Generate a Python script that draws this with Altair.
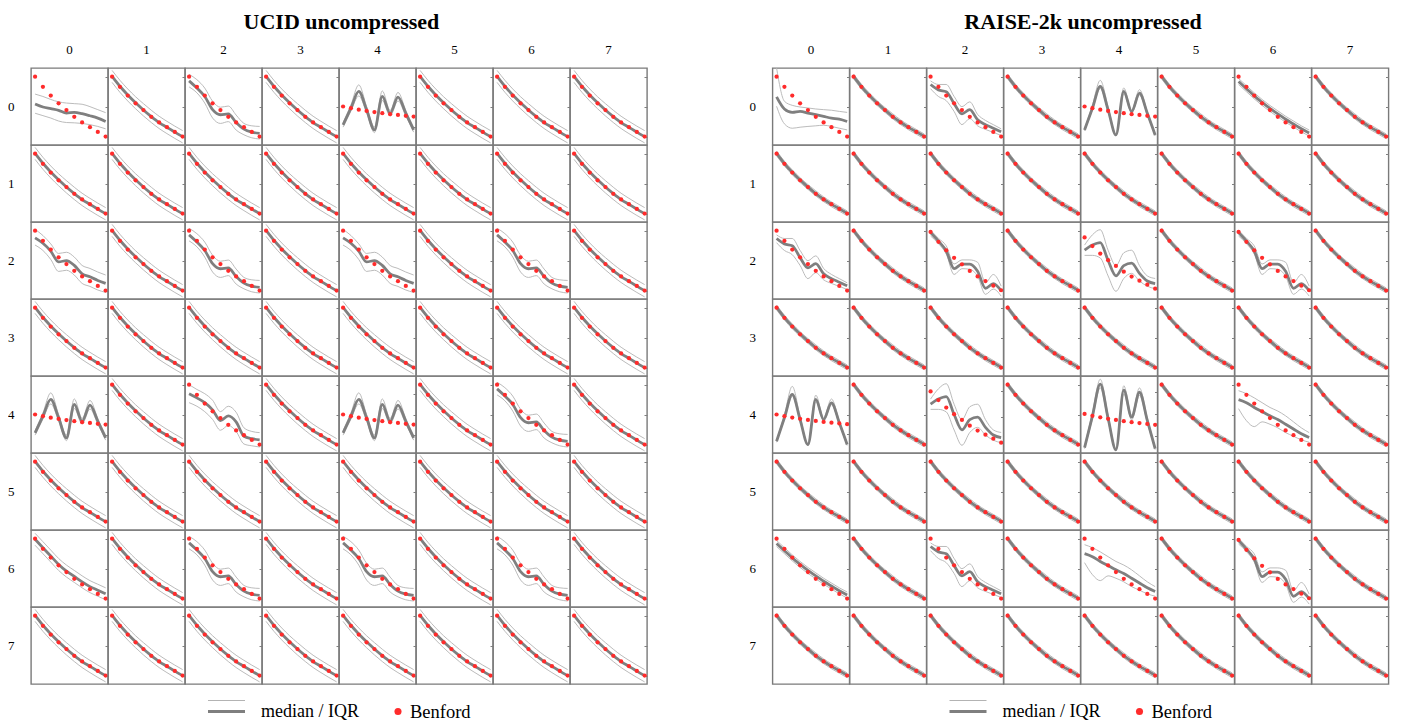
import altair as alt
import pandas as pd

SERIF = "Liberation Serif"
MED_C = "#7f7f7f"
IQR_C = "#b3b3b3"
BEN_C = "#ff2b2b"
BORDER_C = "#7a7a7a"

DIGITS = [0, 1, 2, 3, 4, 5, 6, 7, 8, 9]
ROW_LABELS = [0, 1, 2, 3, 4, 5, 6, 7]
COL_LABELS = [0, 1, 2, 3, 4, 5, 6, 7]
# Benford reference (normalised log-probability units)
BENFORD = [0.000, -0.169, -0.315, -0.444, -0.556, -0.669, -0.764, -0.843, -0.921, -1.000]

LIM_N = [0.145, -1.14]
LIM_S = [0.17, -1.15]
LIM_W = [0.30, -1.20]

# ---------------- UCID profiles ----------------
uN_med = [0.005, -0.160, -0.305, -0.435, -0.555, -0.665, -0.765, -0.845, -0.925, -1.000]
uN_hi = [0.105, -0.060, -0.205, -0.335, -0.450, -0.560, -0.660, -0.745, -0.825, -0.900]
uN_lo = [-0.095, -0.260, -0.405, -0.535, -0.655, -0.765, -0.865, -0.950, -1.030, -1.105]

u00_med = [-0.455, -0.506, -0.534, -0.562, -0.607, -0.596, -0.618, -0.652, -0.691, -0.747]
u00_hi = [-0.290, -0.330, -0.380, -0.420, -0.440, -0.450, -0.460, -0.500, -0.550, -0.600]
u00_lo = [-0.610, -0.650, -0.690, -0.740, -0.765, -0.770, -0.780, -0.800, -0.830, -0.870]

uA_med = [-0.070, -0.190, -0.330, -0.550, -0.635, -0.620, -0.765, -0.875, -0.925, -0.945]
uA_hi = [0.040, -0.050, -0.190, -0.410, -0.510, -0.490, -0.640, -0.780, -0.820, -0.830]
uA_lo = [-0.170, -0.270, -0.440, -0.690, -0.780, -0.750, -0.890, -0.970, -1.020, -1.040]

uB_med = [-0.120, -0.210, -0.340, -0.520, -0.500, -0.580, -0.720, -0.770, -0.830, -0.880]
uB_hi = [0.020, -0.080, -0.220, -0.380, -0.360, -0.440, -0.580, -0.630, -0.690, -0.740]
uB_lo = [-0.240, -0.330, -0.480, -0.680, -0.660, -0.740, -0.880, -0.930, -0.990, -1.030]

uC_med = [-0.150, -0.220, -0.300, -0.420, -0.600, -0.520, -0.620, -0.860, -0.900, -0.920]
uC_hi = [0.000, -0.080, -0.150, -0.260, -0.450, -0.360, -0.460, -0.720, -0.780, -0.800]
uC_lo = [-0.300, -0.360, -0.450, -0.580, -0.760, -0.680, -0.780, -0.990, -1.020, -1.040]

uD_med = [-0.010, -0.150, -0.290, -0.430, -0.540, -0.630, -0.720, -0.800, -0.860, -0.920]
uD_hi = [0.090, -0.050, -0.190, -0.330, -0.440, -0.530, -0.620, -0.700, -0.760, -0.820]
uD_lo = [-0.110, -0.250, -0.390, -0.530, -0.640, -0.730, -0.820, -0.900, -0.960, -1.020]

uZ_med = [-1.83, -0.17, 1.50, -0.33, -2.33, 1.00, -0.67, 0.93, -0.67, -2.33]
uZ_hi = [-1.60, 0.15, 2.15, 0.00, -2.05, 1.55, -0.40, 1.40, -0.40, -2.10]
uZ_lo = [-2.05, -0.45, 1.05, -0.60, -2.60, 0.60, -0.95, 0.55, -0.95, -2.55]
LIM_Z = [3.83, -3.83]

# ---------------- RAISE profiles ----------------
rN_med = [0.005, -0.165, -0.310, -0.440, -0.555, -0.665, -0.760, -0.845, -0.920, -0.995]
rN_hi = [0.045, -0.125, -0.270, -0.400, -0.515, -0.620, -0.720, -0.805, -0.880, -0.955]
rN_lo = [-0.035, -0.205, -0.350, -0.480, -0.595, -0.705, -0.800, -0.885, -0.960, -1.035]

r00_med = [-0.337, -0.539, -0.596, -0.579, -0.607, -0.635, -0.663, -0.691, -0.708, -0.747]
r00_hi = [0.145, -0.410, -0.478, -0.506, -0.522, -0.539, -0.550, -0.560, -0.579, -0.596]
r00_lo = [-0.494, -0.787, -0.860, -0.843, -0.830, -0.820, -0.810, -0.830, -0.860, -0.888]

rA_med = [-0.130, -0.220, -0.250, -0.450, -0.620, -0.550, -0.720, -0.800, -0.860, -0.920]
rA_hi = [-0.070, -0.130, -0.130, -0.330, -0.500, -0.420, -0.630, -0.730, -0.800, -0.870]
rA_lo = [-0.200, -0.330, -0.400, -0.580, -0.800, -0.700, -0.820, -0.880, -0.930, -0.980]

rS_med = [-0.010, -0.157, -0.326, -0.629, -0.551, -0.551, -0.674, -0.966, -0.888, -1.011]
rS_hi = [0.030, -0.110, -0.240, -0.550, -0.480, -0.480, -0.520, -0.870, -0.730, -0.930]
rS_lo = [-0.070, -0.200, -0.380, -0.730, -0.630, -0.640, -0.760, -1.070, -0.980, -1.100]

rW_med = [-0.250, -0.150, -0.100, -0.450, -0.750, -0.550, -0.500, -0.700, -0.850, -0.900]
rW_hi = [-0.150, 0.050, 0.150, -0.250, -0.550, -0.300, -0.250, -0.550, -0.750, -0.800]
rW_lo = [-0.350, -0.350, -0.400, -0.750, -1.050, -0.800, -0.700, -0.850, -0.950, -1.000]

rF_med = [-0.250, -0.300, -0.380, -0.450, -0.520, -0.580, -0.660, -0.740, -0.820, -0.880]
rF_hi = [-0.100, -0.150, -0.220, -0.300, -0.380, -0.440, -0.520, -0.620, -0.720, -0.800]
rF_lo = [-0.400, -0.600, -0.700, -0.620, -0.660, -0.720, -0.800, -0.860, -0.920, -0.960]

rM_med = [-0.080, -0.200, -0.320, -0.430, -0.530, -0.620, -0.710, -0.790, -0.870, -0.940]
rM_hi = [-0.030, -0.150, -0.270, -0.380, -0.480, -0.570, -0.660, -0.740, -0.820, -0.890]
rM_lo = [-0.130, -0.250, -0.370, -0.480, -0.580, -0.670, -0.760, -0.840, -0.920, -0.990]

rZ04_med = [-2.33, -0.17, 2.00, -0.33, -2.83, 1.50, -0.50, 1.33, -0.67, -2.83]
rZ04_hi = [-2.23, 0.13, 2.60, -0.03, -2.78, 1.85, -0.35, 1.68, -0.52, -2.78]
rZ04_lo = [-2.43, -0.32, 1.80, -0.48, -2.93, 1.30, -0.65, 1.13, -0.82, -2.93]

rZ40_med = [-2.76, -0.34, 2.07, -0.52, -3.10, 1.55, -0.52, 1.20, -0.86, -3.10]
rZ40_hi = [-2.66, -0.04, 2.90, -0.22, -3.00, 2.00, -0.30, 1.60, -0.66, -3.00]
rZ40_lo = [-2.86, -0.49, 1.87, -0.67, -3.20, 1.35, -0.67, 1.00, -1.01, -3.20]
LIM_Z40 = [3.97, -3.97]

rZ44_med = [-3.10, -0.20, 2.75, -0.40, -3.30, 2.20, -0.30, 2.00, -0.60, -3.20]
rZ44_hi = [-3.00, 0.10, 3.20, -0.10, -3.20, 2.60, -0.10, 2.40, -0.40, -3.10]
rZ44_lo = [-3.20, -0.45, 2.40, -0.65, -3.40, 1.85, -0.55, 1.70, -0.80, -3.30]
LIM_Z44 = [3.50, -3.60]

PROFILES = {
    "uN": (uN_med, uN_lo, uN_hi, LIM_N),
    "u00": (u00_med, u00_lo, u00_hi, LIM_N),
    "uA": (uA_med, uA_lo, uA_hi, LIM_N),
    "uB": (uB_med, uB_lo, uB_hi, LIM_N),
    "uC": (uC_med, uC_lo, uC_hi, LIM_N),
    "uD": (uD_med, uD_lo, uD_hi, LIM_N),
    "uZ": (uZ_med, uZ_lo, uZ_hi, LIM_Z),
    "rN": (rN_med, rN_lo, rN_hi, LIM_N),
    "r00": (r00_med, r00_lo, r00_hi, LIM_N),
    "rA": (rA_med, rA_lo, rA_hi, LIM_N),
    "rS": (rS_med, rS_lo, rS_hi, LIM_S),
    "rW": (rW_med, rW_lo, rW_hi, LIM_W),
    "rF": (rF_med, rF_lo, rF_hi, LIM_N),
    "rM": (rM_med, rM_lo, rM_hi, LIM_N),
    "rZ04": (rZ04_med, rZ04_lo, rZ04_hi, LIM_Z),
    "rZ40": (rZ40_med, rZ40_lo, rZ40_hi, LIM_Z40),
    "rZ44": (rZ44_med, rZ44_lo, rZ44_hi, LIM_Z44),
}

UCID_GRID = [
    ["u00", "uN", "uA", "uN", "uZ", "uN", "uN", "uN"],
    ["uN", "uN", "uN", "uN", "uN", "uN", "uN", "uN"],
    ["uB", "uN", "uA", "uN", "uB", "uN", "uA", "uN"],
    ["uN", "uN", "uN", "uN", "uN", "uN", "uN", "uN"],
    ["uZ", "uN", "uC", "uN", "uZ", "uN", "uA", "uN"],
    ["uN", "uN", "uN", "uN", "uN", "uN", "uN", "uN"],
    ["uD", "uN", "uA", "uN", "uA", "uN", "uA", "uN"],
    ["uN", "uN", "uN", "uN", "uN", "uN", "uN", "uN"],
]

RAISE_GRID = [
    ["r00", "rN", "rA", "rN", "rZ04", "rN", "rM", "rN"],
    ["rN", "rN", "rN", "rN", "rN", "rN", "rN", "rN"],
    ["rA", "rN", "rS", "rN", "rW", "rN", "rS", "rN"],
    ["rN", "rN", "rN", "rN", "rN", "rN", "rN", "rN"],
    ["rZ40", "rN", "rW", "rN", "rZ44", "rN", "rF", "rN"],
    ["rN", "rN", "rN", "rN", "rN", "rN", "rN", "rN"],
    ["rM", "rN", "rA", "rN", "rF", "rN", "rS", "rN"],
    ["rN", "rN", "rN", "rN", "rN", "rN", "rN", "rN"],
]


def build(grid):
    recs = []
    for r in ROW_LABELS:
        for c in COL_LABELS:
            med, lo, hi, lim = PROFILES[grid[r][c]]
            for i, d in enumerate(DIGITS):
                recs.append({"row": r, "col": c, "x": d, "series": "q25", "y": lo[i]})
                recs.append({"row": r, "col": c, "x": d, "series": "q75", "y": hi[i]})
                recs.append({"row": r, "col": c, "x": d, "series": "median", "y": med[i]})
                recs.append({"row": r, "col": c, "x": d, "series": "benford", "y": BENFORD[i]})
            recs.append({"row": r, "col": c, "x": 4, "series": "lim", "y": lim[0]})
            recs.append({"row": r, "col": c, "x": 4, "series": "lim", "y": lim[1]})
    return pd.DataFrame(recs)


CELL_W = 77
CELL_H = 77


def grid_chart(df, title):
    x = alt.X("x:Q", scale=alt.Scale(domain=[-0.52, 9.3], nice=False, zero=False), axis=None)
    y = alt.Y(
        "y:Q",
        scale=alt.Scale(zero=False, nice=False),
        axis=alt.Axis(orient="right", offset=-3, tickSize=3, domain=False, labels=False,
                      grid=False, title=None, tickColor="#808080", tickWidth=1, tickCount=4,
                      minExtent=0, maxExtent=0),
    )
    base = alt.Chart().encode(x=x, y=y)
    lim = base.transform_filter("datum.series == 'lim'").mark_point(opacity=0, size=1)
    iqr = base.transform_filter("datum.series == 'q25' || datum.series == 'q75'").mark_line(
        color=IQR_C, strokeWidth=0.9, interpolate="monotone").encode(detail="series:N")
    med = base.transform_filter("datum.series == 'median'").mark_line(
        color=MED_C, strokeWidth=2.8, interpolate="monotone")
    ben = base.transform_filter("datum.series == 'benford'").mark_circle(
        color=BEN_C, size=18, opacity=1)
    layered = alt.layer(lim, iqr, med, ben, data=df).properties(
        width=CELL_W, height=CELL_H,
        view=alt.ViewBackground(stroke=BORDER_C, strokeWidth=1.4))
    return layered.facet(
        row=alt.Row("row:O", title=None,
                    header=alt.Header(labelAngle=0, labelAlign="right", labelPadding=10,
                                      labelFont=SERIF, labelFontSize=13, labelColor="black")),
        column=alt.Column("col:O", title=None,
                          header=alt.Header(labelPadding=11, labelFont=SERIF,
                                            labelFontSize=13, labelColor="black")),
        spacing=0,
    ).resolve_scale(y="independent").properties(
        bounds="flush",
        title=alt.TitleParams(title, font=SERIF, fontSize=22, fontWeight="bold",
                              color="black", anchor="middle", dx=12, offset=10)
    )


LEG_ITEMS = ["median / IQR", "Benford"]
leg_df = pd.DataFrame({"item": LEG_ITEMS})


def legend_chart():
    b = alt.Chart(leg_df)
    f_med = "datum.item == 'median / IQR'"
    f_ben = "datum.item == 'Benford'"
    thin = b.transform_filter(f_med).mark_rule(color=IQR_C, strokeWidth=1).encode(
        x=alt.value(177), x2=alt.value(214), y=alt.value(12.5))
    thick = b.transform_filter(f_med).mark_rule(color=MED_C, strokeWidth=3).encode(
        x=alt.value(177), x2=alt.value(214), y=alt.value(23.5))
    t1 = b.transform_filter(f_med).mark_text(align="left", baseline="middle", font=SERIF,
                                               fontSize=18, color="black").encode(
        text="item:N", x=alt.value(230), y=alt.value(23.5))
    dot = b.transform_filter(f_ben).mark_circle(color=BEN_C, size=50, opacity=1).encode(
        x=alt.value(367), y=alt.value(23.5))
    t2 = b.transform_filter(f_ben).mark_text(align="left", baseline="middle", font=SERIF,
                                               fontSize=18.5, color="black").encode(
        text="item:N", x=alt.value(379), y=alt.value(23.5))
    return alt.layer(thin, thick, t1, dot, t2).properties(
        width=560, height=26, view=alt.ViewBackground(stroke="transparent"))


left = alt.vconcat(grid_chart(build(UCID_GRID), "UCID uncompressed"), legend_chart(), spacing=1)
right = alt.vconcat(grid_chart(build(RAISE_GRID), "RAISE-2k uncompressed"), legend_chart(), spacing=1)

chart = alt.hconcat(left, right, spacing=98.5).properties(
    padding={"top": 3, "left": 0, "right": 0, "bottom": 0}
).configure_view(stroke=BORDER_C, strokeWidth=1.4).configure(background="white")

chart.save("out.html", embed_options={"renderer": "svg", "actions": False})
